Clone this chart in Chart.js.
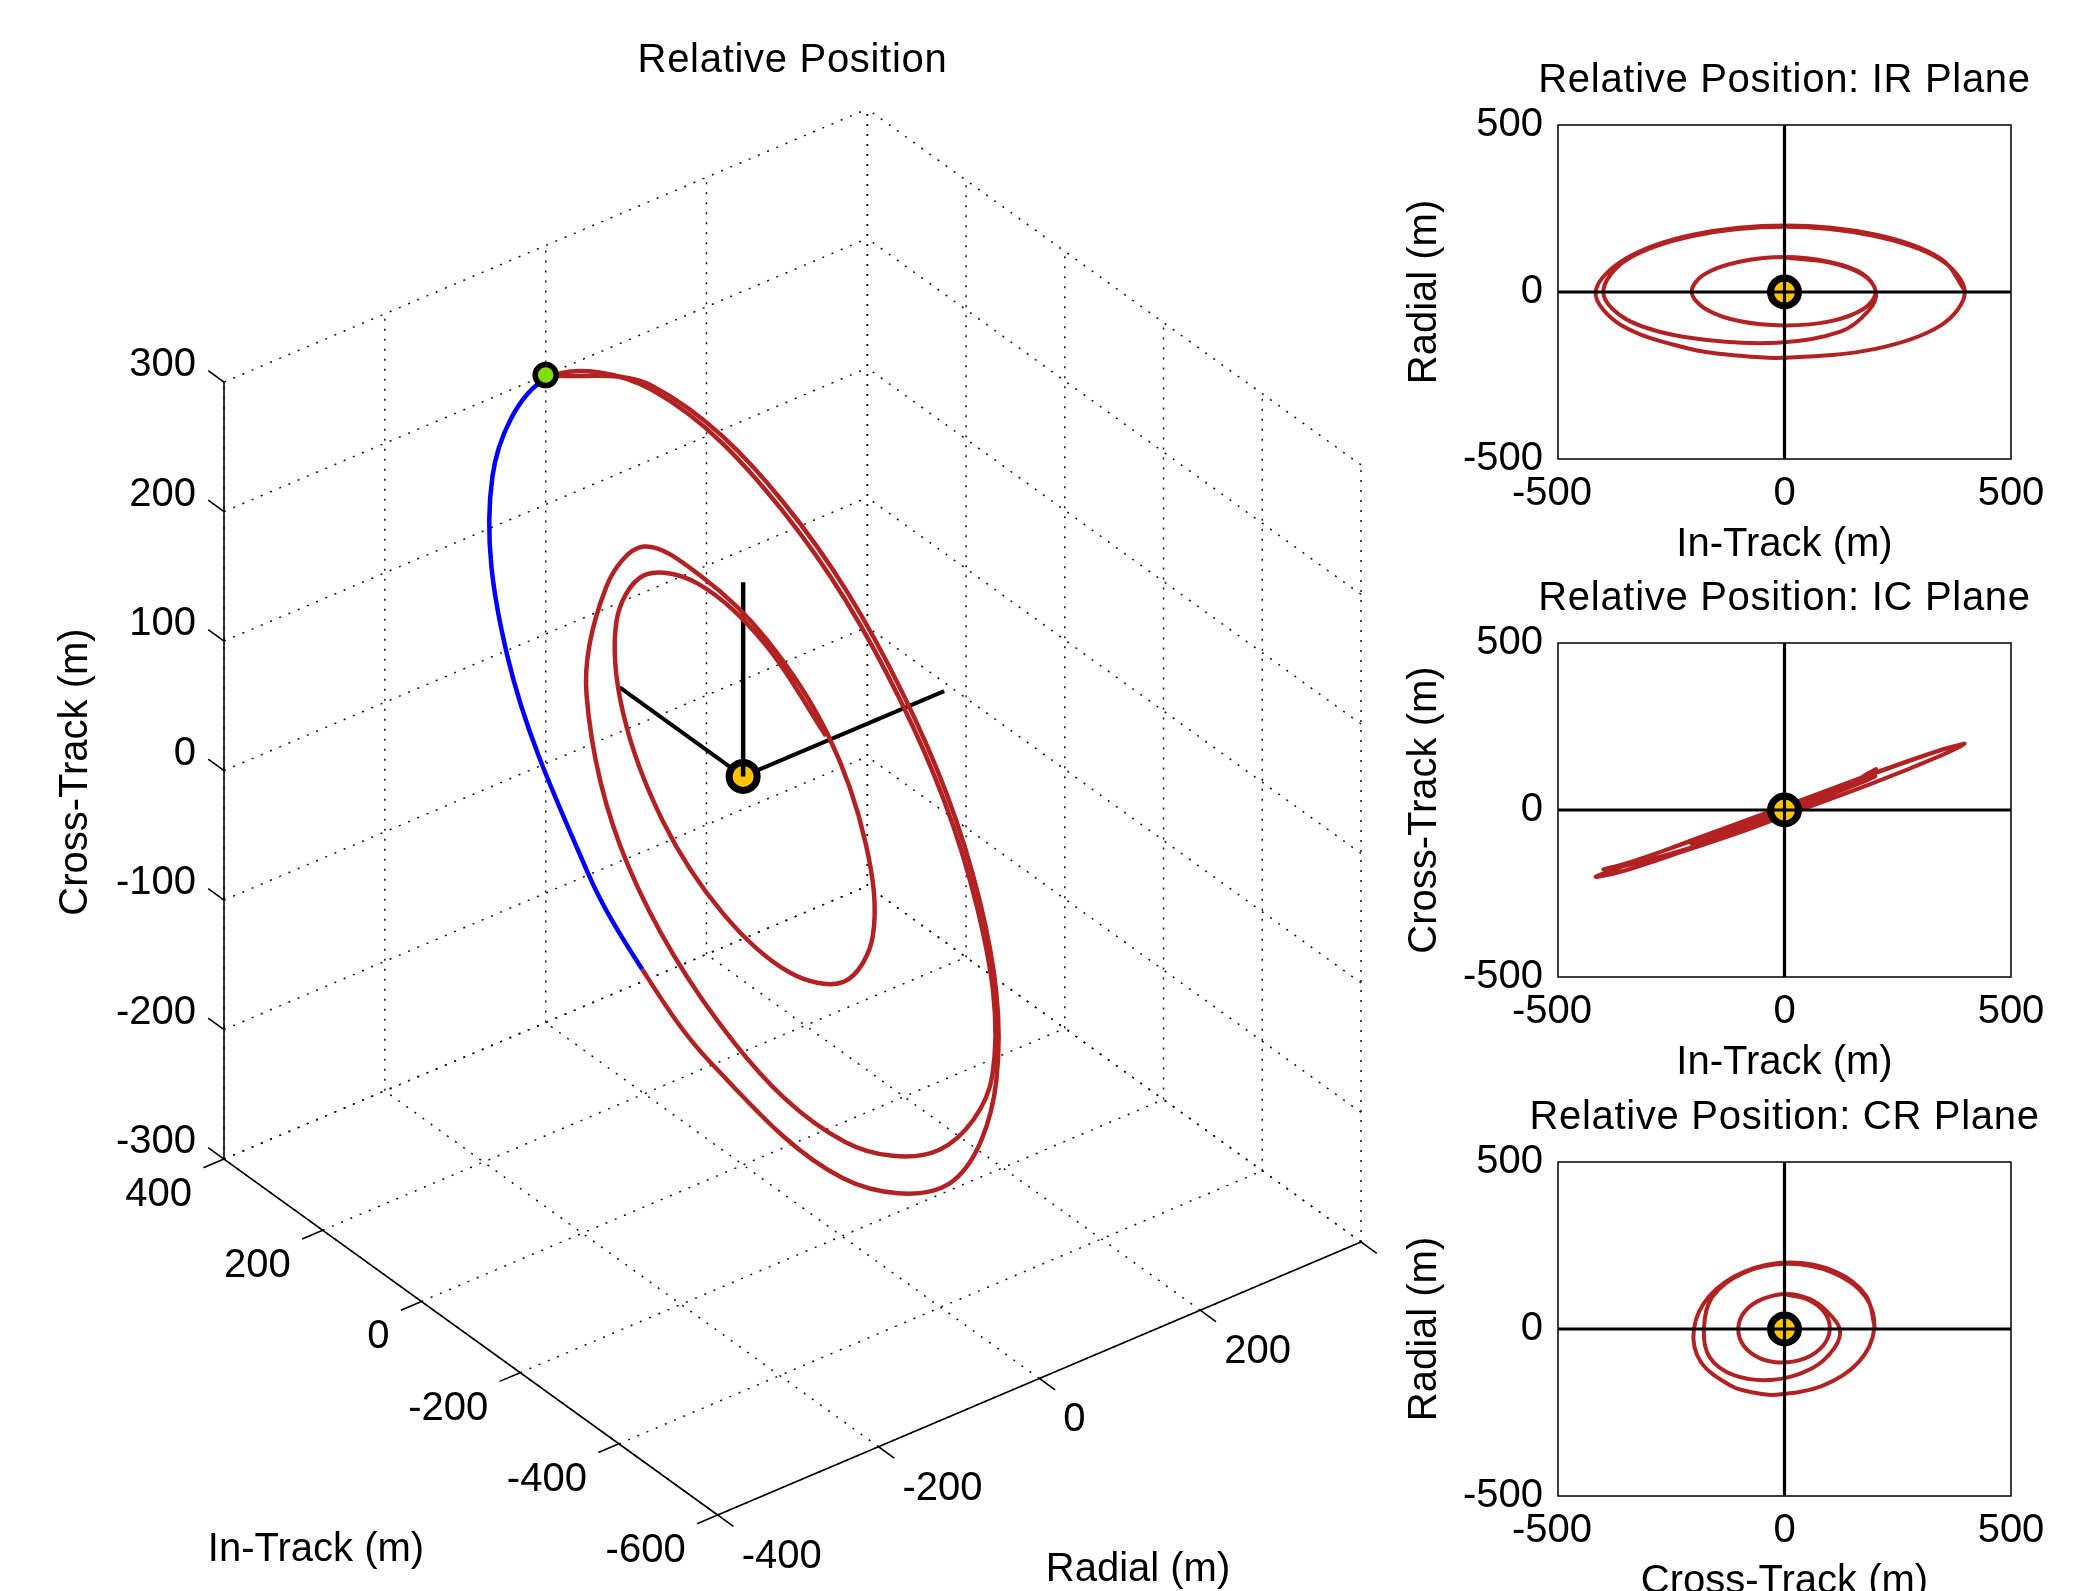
<!DOCTYPE html>
<html>
<head>
<meta charset="utf-8">
<title>Relative Position</title>
<script src="https://cdn.jsdelivr.net/npm/chart.js@4.4.1/dist/chart.umd.min.js"></script>
<style>
    html, body { margin: 0; padding: 0; background: #fff; }
    #figure { position: relative; width: 2074px; height: 1591px; background: #fff; }
    #figure canvas { position: absolute; left: 0; top: 0; width: 2074px; height: 1591px; }
</style>
</head>
<body>
<div id="figure">
    <canvas id="view3d" width="2074" height="1591"></canvas>
    <canvas id="planeIR" width="2074" height="1591"></canvas>
    <canvas id="planeIC" width="2074" height="1591"></canvas>
    <canvas id="planeCR" width="2074" height="1591"></canvas>
</div>
<script>
// relative trajectory samples (m)
const inTrack = [400, 345, 200, 2, -200, -350, -417, -362, -210, -105, -5, 198, 345,
    398, 343, 196, 0, -200, -350, -400, -345, -205, -15, 125, 185,
    202, 172, 100, 0, -102, -178, -205, -175, -100, 0, 100, 175, 201,
    175, 100, 0];
const radial = [0, 100, 172, 199, 172, 100, 0, -98, -170, -190, -197, -171, -100,
    0, 98, 168, 195, 168, 95, -2, -85, -138, -152, -118, -57,
    0, 55, 90, 105, 90, 52, 0, -50, -87, -100, -88, -50, 0,
    50, 88, 103];
const crossTrack = [200, 180, 112, 12, -88, -165, -200, -185, -118, -70, -20, 82, 163,
    198, 178, 108, 8, -90, -160, -178, -165, -112, -25, 60, 110,
    122, 92, 55, 5, -48, -88, -102, -90, -55, -8, 45, 85, 100,
    88, 52, 4];
// samples of the 3-D track that show in blue (first, last)
const blueSamples = [9, 13];

// target at the origin and its body axes (in-track, radial, cross-track)
const target = [0, 0, 0];
const armInTrack = [250, 0, 0];
const armRadial = [0, 250, 0];
const armCross = [0, 0, 150];

// axes
const inTrackLim = [-600, 400];
const radialLim = [-400, 400];
const crossLim = [-300, 300];
const inTrackTicks = [400, 200, 0, -200, -400, -600];
const radialTicks = [-400, -200, 0, 200, 400];
const radialTickLabels = ['-400', '-200', '0', '200', ''];
const crossTicks = [-300, -200, -100, 0, 100, 200, 300];
const planeLim = [-500, 500];
const planeTicks = [-500, 0, 500];

const W = 2074, H = 1591;
const FONT = '40px "Liberation Sans", Arial, sans-serif';
const RED = '#B22222', BLUE = '#0000FF';

// matlab style view(-37.5, 30) on a unit plot box
const AZ = 37.5 * Math.PI / 180;
const EL = 30 * Math.PI / 180;

function norm(v, lim) {
    return (v - lim[0]) / (lim[1] - lim[0]) - 0.5;
}

function project(it, ra, ct) {
    const t = norm(it, inTrackLim), r = norm(ra, radialLim), c = norm(ct, crossLim);
    return {
        x: r * Math.cos(AZ) - t * Math.sin(AZ),
        y: (r * Math.sin(AZ) + t * Math.cos(AZ)) * Math.sin(EL) + c * Math.cos(EL)
    };
}

let corners = [];
inTrackLim.forEach(it => radialLim.forEach(ra => crossLim.forEach(ct => corners.push(project(it, ra, ct)))));
const viewX = [Math.min(...corners.map(p => p.x)), Math.max(...corners.map(p => p.x))];
const viewY = [Math.min(...corners.map(p => p.y)), Math.max(...corners.map(p => p.y))];

function lineSet(points, color, width, order, dash) {
    return {
        data: points,
        showLine: true,
        borderColor: color,
        borderWidth: width,
        borderDash: dash || [],
        pointRadius: 0,
        pointHoverRadius: 0,
        tension: 0,
        order: order,
        clip: false
    };
}

function markerSet(point, fill, radius, ring, order) {
    return {
        data: [point],
        showLine: false,
        pointRadius: radius,
        pointHoverRadius: radius,
        pointBackgroundColor: fill,
        pointBorderColor: '#000',
        pointBorderWidth: ring,
        order: order,
        clip: false
    };
}

function seg3(a, b) {
    return [project(...a), project(...b)];
}

// ---------- 3-D view ----------
const datasets3d = [];
const itMin = inTrackLim[0], itMax = inTrackLim[1];
const raMin = radialLim[0], raMax = radialLim[1];
const ctMin = crossLim[0], ctMax = crossLim[1];
const gridDash = [2, 8];

radialTicks.forEach(ra => {
    datasets3d.push(lineSet(seg3([itMax, ra, ctMin], [itMax, ra, ctMax]), '#111', 1.5, 50, gridDash));
    datasets3d.push(lineSet(seg3([itMin, ra, ctMin], [itMax, ra, ctMin]), '#111', 1.5, 50, gridDash));
});
inTrackTicks.forEach(it => {
    datasets3d.push(lineSet(seg3([it, raMax, ctMin], [it, raMax, ctMax]), '#111', 1.5, 50, gridDash));
    datasets3d.push(lineSet(seg3([it, raMin, ctMin], [it, raMax, ctMin]), '#111', 1.5, 50, gridDash));
});
crossTicks.forEach(ct => {
    datasets3d.push(lineSet(seg3([itMax, raMin, ct], [itMax, raMax, ct]), '#111', 1.5, 50, gridDash));
    datasets3d.push(lineSet(seg3([itMin, raMax, ct], [itMax, raMax, ct]), '#111', 1.5, 50, gridDash));
});

// axis lines and tick marks
const tickLen = 0.032;
datasets3d.push(lineSet(seg3([itMax, raMin, ctMin], [itMax, raMin, ctMax]), '#000', 1.6, 40));
datasets3d.push(lineSet(seg3([itMax, raMin, ctMin], [itMin, raMin, ctMin]), '#000', 1.6, 40));
datasets3d.push(lineSet(seg3([itMin, raMin, ctMin], [itMin, raMax, ctMin]), '#000', 1.6, 40));
crossTicks.forEach(ct => {
    const d = tickLen * (itMax - itMin);
    datasets3d.push(lineSet(seg3([itMax, raMin, ct], [itMax + d, raMin, ct]), '#000', 1.6, 40));
});
inTrackTicks.forEach(it => {
    const d = tickLen * (raMax - raMin);
    datasets3d.push(lineSet(seg3([it, raMin, ctMin], [it, raMin - d, ctMin]), '#000', 1.6, 40));
});
radialTicks.forEach(ra => {
    const d = tickLen * (itMax - itMin);
    datasets3d.push(lineSet(seg3([itMin, ra, ctMin], [itMin - d, ra, ctMin]), '#000', 1.6, 40));
});

// target body axes and marker
datasets3d.push(lineSet(seg3(target, armInTrack), '#000', 4, 30));
datasets3d.push(lineSet(seg3(target, armRadial), '#000', 4, 30));
datasets3d.push(markerSet(project(...target), '#FFC400', 14, 7, 25));
datasets3d.push(lineSet(seg3(target, armCross), '#000', 4.5, 20));

// trajectory, one spline, blue on part of the first revolution
const track3d = inTrack.map((v, i) => project(v, radial[i], crossTrack[i]));
const track3dSet = lineSet(track3d, RED, 4.5, 15);
track3dSet.tension = 0.35;
track3dSet.segment = {
    borderColor: ctx => (ctx.p0DataIndex >= blueSamples[0] && ctx.p1DataIndex <= blueSamples[1]) ? BLUE : RED
};
datasets3d.push(track3dSet);
datasets3d.push(markerSet(track3d[0], '#7FE000', 10.5, 5.5, 5));

const labels3d = {
    id: 'labels3d',
    afterDraw(chart) {
        const ctx = chart.ctx;
        const toPx = (it, ra, ct) => {
            const p = project(it, ra, ct);
            return { x: chart.scales.x.getPixelForValue(p.x), y: chart.scales.y.getPixelForValue(p.y) };
        };
        ctx.save();
        ctx.fillStyle = '#000';
        ctx.font = FONT;
        ctx.textBaseline = 'middle';
        ctx.textAlign = 'right';
        crossTicks.forEach(ct => {
            const p = toPx(itMax, raMin, ct);
            ctx.fillText(String(ct), p.x - 28, p.y - 17);
        });
        inTrackTicks.forEach(it => {
            const p = toPx(it, raMin, ctMin);
            ctx.fillText(String(it), p.x - 32, p.y + 36);
        });
        ctx.textAlign = 'left';
        radialTicks.forEach((ra, i) => {
            const p = toPx(itMin, ra, ctMin);
            ctx.fillText(radialTickLabels[i], p.x + 24, p.y + 42);
        });
        ctx.textAlign = 'center';
        ctx.fillText('In-Track (m)', 316, 1550);
        ctx.fillText('Radial (m)', 1138, 1570);
        ctx.save();
        ctx.translate(76, 772);
        ctx.rotate(-Math.PI / 2);
        ctx.fillText('Cross-Track (m)', 0, 0);
        ctx.restore();
        ctx.letterSpacing = '0.7px';
        ctx.fillText('Relative Position', (chart.chartArea.left + chart.chartArea.right) / 2, 61);
        ctx.restore();
    }
};

new Chart(document.getElementById('view3d'), {
    type: 'scatter',
    data: { datasets: datasets3d },
    options: {
        responsive: false,
        animation: false,
        devicePixelRatio: 1,
        events: [],
        layout: { padding: { left: 224, top: 109, right: W - 1361, bottom: H - 1515 } },
        plugins: { legend: { display: false }, tooltip: { enabled: false } },
        scales: {
            x: { type: 'linear', min: viewX[0], max: viewX[1], display: false },
            y: { type: 'linear', min: viewY[0], max: viewY[1], display: false }
        }
    },
    plugins: [labels3d]
});

// ---------- plane views ----------
function planeLabels(title, xTitle, yTitle) {
    return {
        id: 'planeLabels',
        afterDraw(chart) {
            const ctx = chart.ctx;
            const area = chart.chartArea;
            const xs = chart.scales.x, ys = chart.scales.y;
            const cx = (area.left + area.right) / 2, cy = (area.top + area.bottom) / 2;
            ctx.save();
            ctx.strokeStyle = '#000';
            ctx.lineWidth = 1.5;
            ctx.strokeRect(area.left, area.top, area.right - area.left, area.bottom - area.top);
            ctx.fillStyle = '#000';
            ctx.font = FONT;
            ctx.textBaseline = 'middle';
            ctx.textAlign = 'right';
            planeTicks.forEach(v => ctx.fillText(String(v), area.left - 15, ys.getPixelForValue(v)));
            ctx.textAlign = 'center';
            planeTicks.forEach(v => ctx.fillText(String(v), xs.getPixelForValue(v) - (v < 0 ? 6 : 0), area.bottom + 35));
            ctx.fillText(xTitle, cx, area.bottom + 86);
            ctx.save();
            ctx.translate(1425, cy);
            ctx.rotate(-Math.PI / 2);
            ctx.fillText(yTitle, 0, 0);
            ctx.restore();
            ctx.letterSpacing = '0.7px';
            ctx.fillText(title, cx, area.top - 44);
            ctx.restore();
        }
    };
}

function planeChart(canvasId, box, title, xTitle, yTitle, xs, ys, tx, ty) {
    const track = xs.map((v, i) => ({ x: v, y: ys[i] }));
    const red = lineSet(track, RED, 4, 30);
    red.tension = 0.35;
    red.clip = 0;
    return new Chart(document.getElementById(canvasId), {
        type: 'scatter',
        data: {
            datasets: [
                lineSet([{ x: planeLim[0], y: 0 }, { x: planeLim[1], y: 0 }], '#000', 3.2, 10),
                lineSet([{ x: 0, y: planeLim[0] }, { x: 0, y: planeLim[1] }], '#000', 3.2, 10),
                markerSet({ x: tx, y: ty }, '#FFC400', 14, 7, 20),
                red
            ]
        },
        options: {
            responsive: false,
            animation: false,
            devicePixelRatio: 1,
            events: [],
            layout: { padding: { left: box.left, top: box.top, right: W - box.right, bottom: H - box.bottom } },
            plugins: { legend: { display: false }, tooltip: { enabled: false } },
            scales: {
                x: { type: 'linear', min: planeLim[0], max: planeLim[1], display: false },
                y: { type: 'linear', min: planeLim[0], max: planeLim[1], display: false }
            }
        },
        plugins: [planeLabels(title, xTitle, yTitle)]
    });
}

planeChart('planeIR', { left: 1558, right: 2011, top: 125, bottom: 459 },
    'Relative Position: IR Plane', 'In-Track (m)', 'Radial (m)', inTrack, radial, target[0], target[1]);
planeChart('planeIC', { left: 1558, right: 2011, top: 643, bottom: 977 },
    'Relative Position: IC Plane', 'In-Track (m)', 'Cross-Track (m)', inTrack, crossTrack, target[0], target[2]);
planeChart('planeCR', { left: 1558, right: 2011, top: 1162, bottom: 1496 },
    'Relative Position: CR Plane', 'Cross-Track (m)', 'Radial (m)', crossTrack, radial, target[2], target[1]);
</script>
</body>
</html>
